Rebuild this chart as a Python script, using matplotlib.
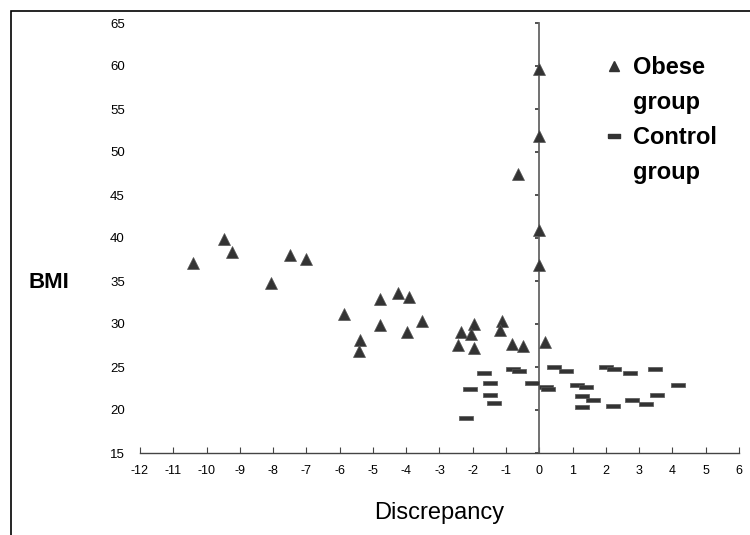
import matplotlib
matplotlib.use("Agg")
import matplotlib.pyplot as plt
from matplotlib.lines import Line2D
from matplotlib.patches import Rectangle

# obese group: discrepancy vs BMI
obese_disc = [-10.40, -9.47, -9.25, -8.05, -7.50, -7.02, -5.87, -4.78, -4.25,
              -3.91, -4.78, -5.38, -5.43, -3.97, -3.54, -2.34, -2.44, -1.95,
              -2.05, -1.95, -1.13, -1.18, -0.81, -0.48, 0.17, -0.63, 0.0, 0.0,
              0.0, 0.0]
obese_bmi = [37.1, 39.9, 38.4, 34.8, 38.0, 37.6, 31.2, 32.9, 33.6,
             33.1, 29.9, 28.1, 26.9, 29.1, 30.4, 29.1, 27.6, 30.0,
             28.8, 27.2, 30.4, 29.3, 27.7, 27.5, 27.9, 47.4, 59.7, 51.9,
             40.9, 36.9]

# control group
control_disc = [-2.20, -2.08, -1.65, -1.48, -1.48, -1.37, -0.78, -0.60, -0.23,
                0.20, 0.26, 0.45, 0.80, 1.13, 1.40, 1.28, 1.62, 1.28, 2.00,
                2.23, 2.71, 2.22, 2.77, 3.20, 3.48, 3.53, 4.18]
control_bmi = [19.1, 22.4, 24.3, 23.1, 21.8, 20.8, 24.8, 24.5, 23.1,
               22.7, 22.4, 25.0, 24.5, 22.9, 22.7, 21.6, 21.2, 20.3, 25.0,
               24.8, 24.3, 20.5, 21.2, 20.7, 24.8, 21.8, 22.9]

x_ticks = list(range(-12, 7))
y_ticks = list(range(15, 66, 5))

plt.rcParams['font.family'] = ['Liberation Sans', 'DejaVu Sans']

mark_col = "#333333"
dash = [(-1, -0.34), (1, -0.34), (1, 0.34), (-1, 0.34), (-1, -0.34)]

fig = plt.figure(figsize=(7.5, 5.35), dpi=100)
ax = fig.add_axes([140 / 750, 82 / 535, 599 / 750, 430 / 535])

ax.plot(control_disc, control_bmi, linestyle="none", marker=dash,
        markersize=10.5, color=mark_col, markeredgecolor="#555555",
        markeredgewidth=0.5, zorder=3)
ax.plot(obese_disc, obese_bmi, linestyle="none", marker="^",
        markersize=9, color=mark_col, markeredgecolor="#555555",
        markeredgewidth=0.5, zorder=4)

ax.set_xlim(-12, 6)
ax.set_ylim(15, 65)

# vertical axis crosses at zero, labels stay at the left edge
for side in ("top", "right"):
    ax.spines[side].set_visible(False)
ax.spines["left"].set_position(("data", 0))
ax.spines["left"].set_color("#666666")
ax.spines["left"].set_linewidth(1.3)
ax.spines["bottom"].set_color("#444444")
ax.spines["bottom"].set_linewidth(1.0)

ax.set_xticks(x_ticks)
ax.set_yticks(y_ticks)
ax.tick_params(axis="y", direction="out", length=3, width=1.2,
               color="#333333", labelleft=False)
ax.tick_params(axis="x", direction="in", length=4, width=0.8,
               color="#444444", labelsize=9, pad=9)
ax.set_xticklabels([str(t) for t in x_ticks])

sec = ax.secondary_yaxis("left")
sec.spines["left"].set_visible(False)
sec.set_yticks(y_ticks)
sec.tick_params(axis="y", length=0, labelsize=9.5, pad=11)

ax.set_xlabel("Discrepancy", fontsize=17, labelpad=18)
fig.text(28 / 750, 1 - 283 / 535, "BMI", fontsize=16, fontweight="bold",
         va="center", ha="left")

# legend: marker sits beside the first line of each label
blank = Line2D([], [], linestyle="none")
handles = [
    Line2D([], [], linestyle="none", marker="^", markersize=7, color=mark_col),
    blank,
    Line2D([], [], linestyle="none", marker=dash, markersize=8, color=mark_col),
    blank,
]
leg = ax.legend(handles, ["Obese", "group", "Control", "group"],
                loc="upper left", bbox_to_anchor=(0.76, 0.95), frameon=False,
                prop={"size": 17, "weight": "bold"}, handlelength=0.6,
                handletextpad=0.5, labelspacing=0.5, borderpad=0)

# outer frame: left and top edges only
fig.patches.append(Rectangle((11 / 750, -0.5), 2, 0.5 + 1 - 11 / 535,
                             transform=fig.transFigure, fill=False,
                             edgecolor="black", linewidth=1.2))

fig.savefig("out.png", dpi=100, facecolor="white")
